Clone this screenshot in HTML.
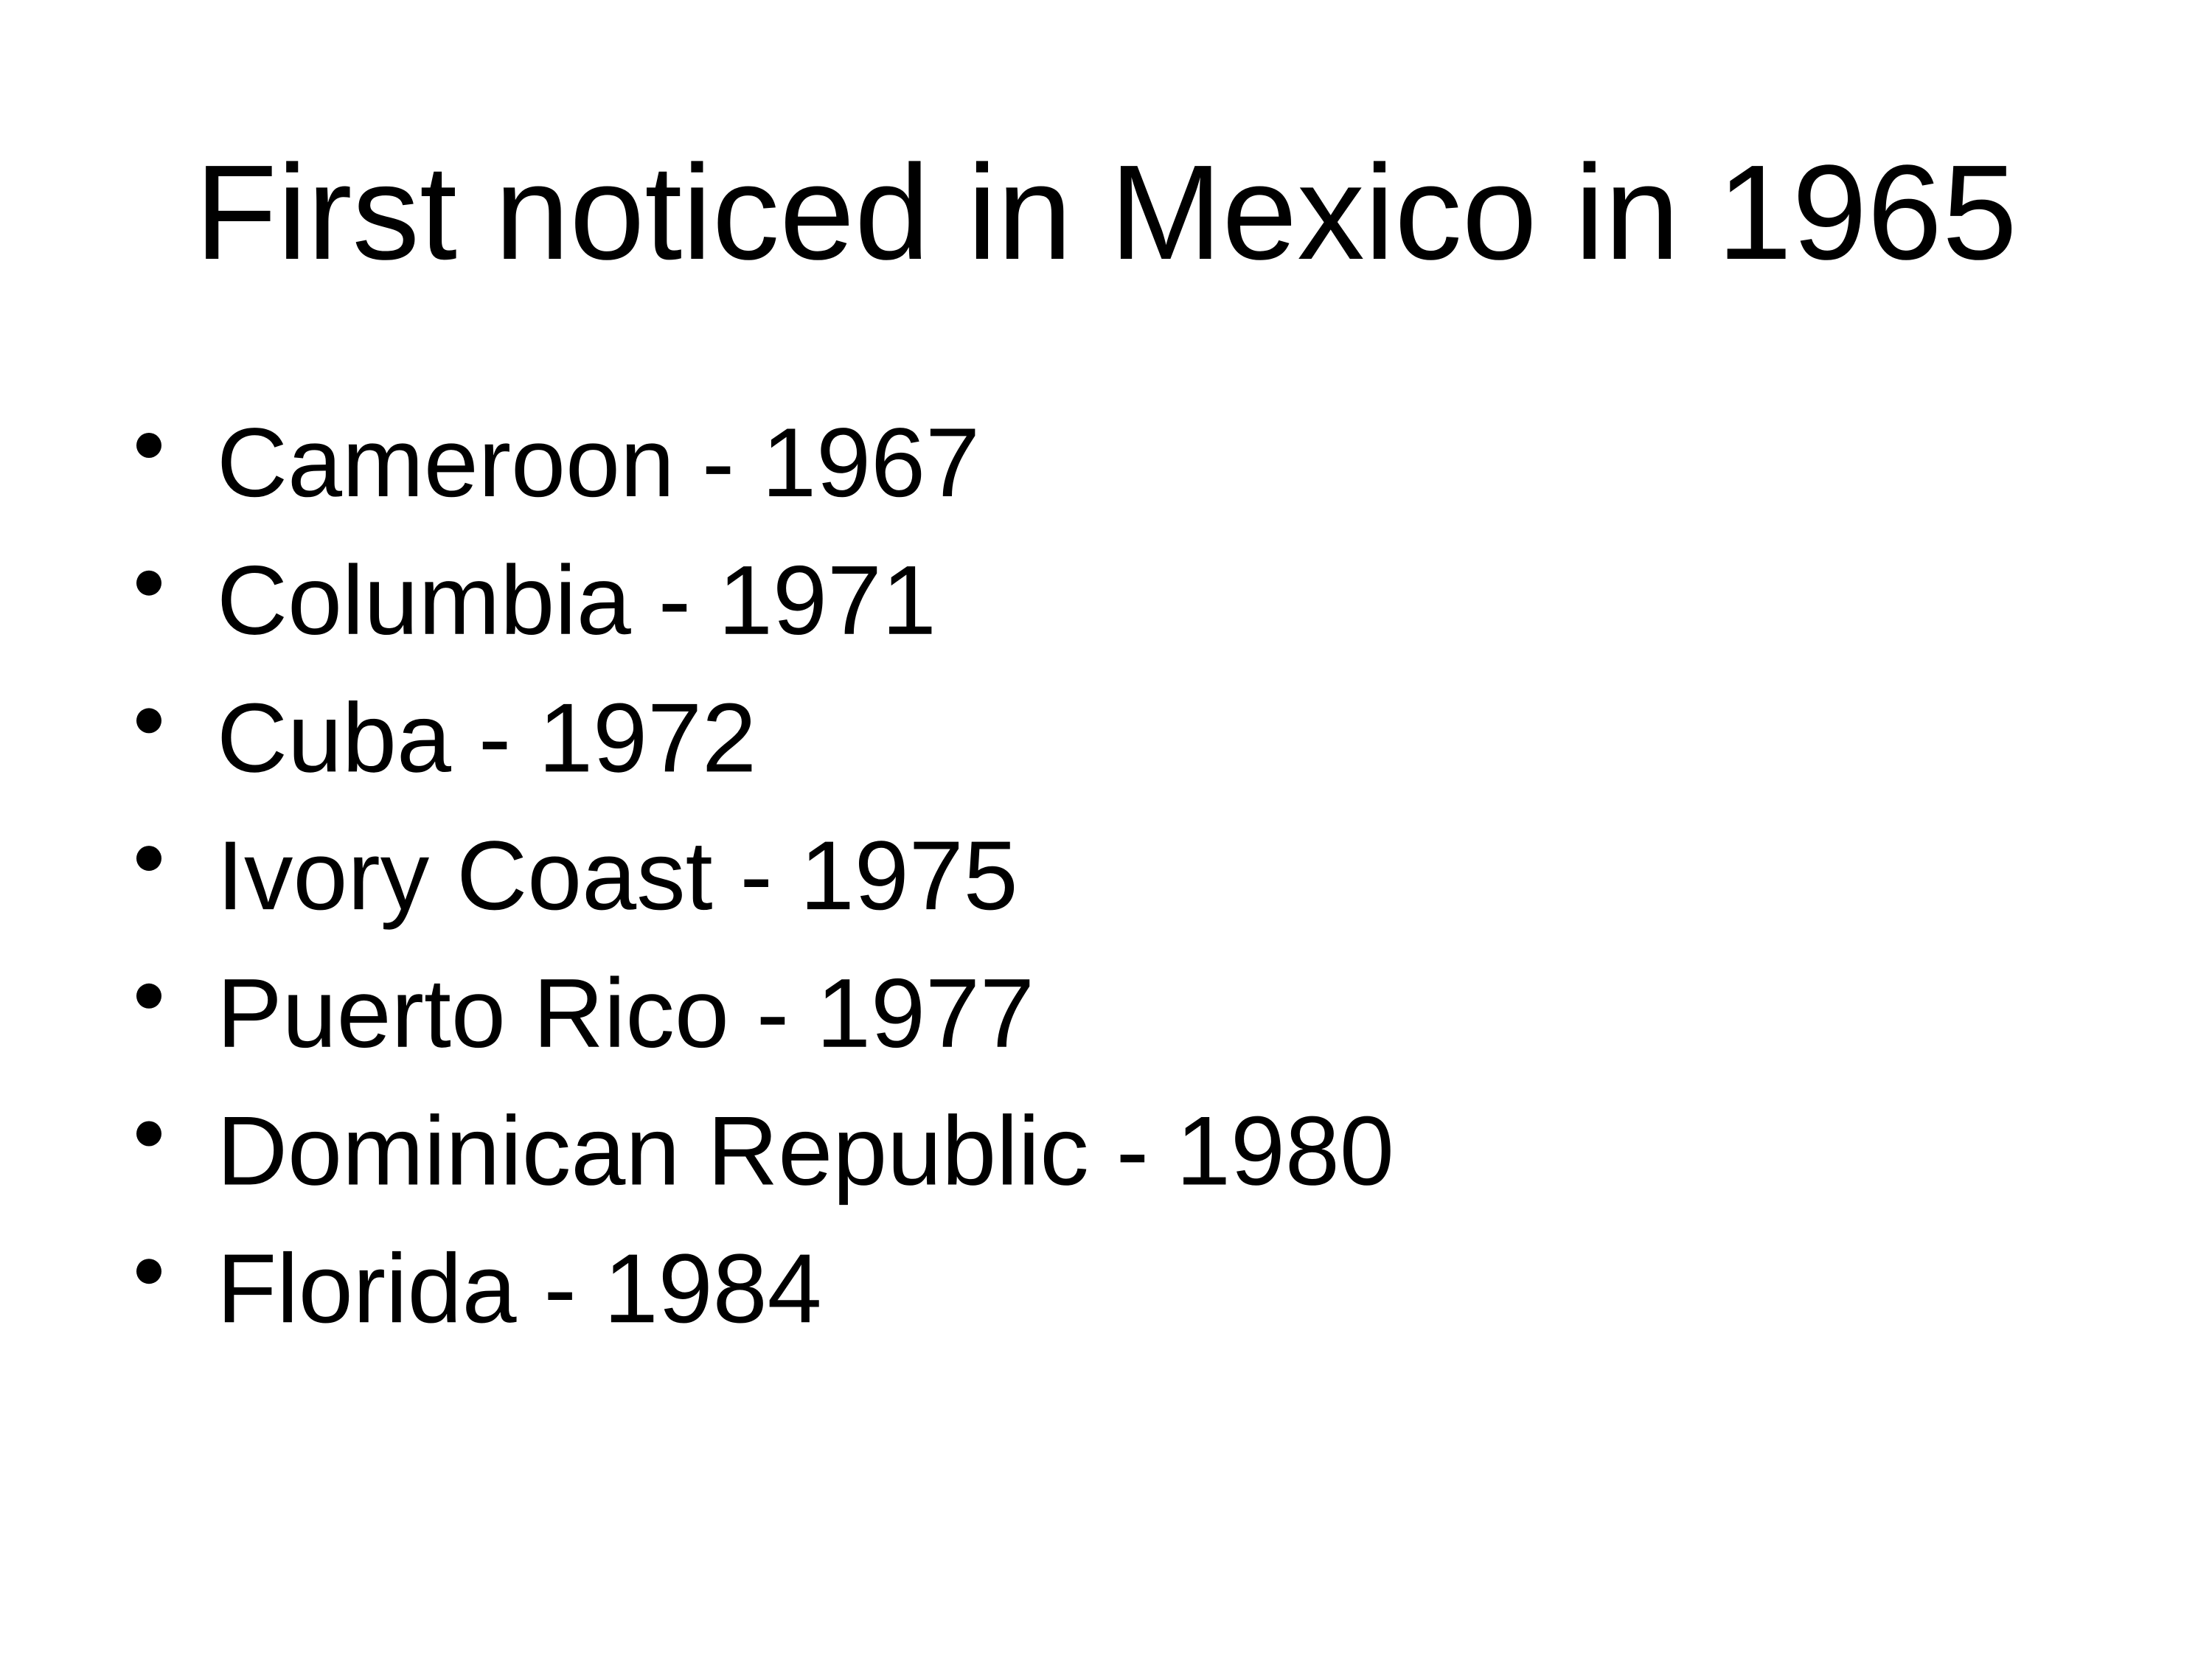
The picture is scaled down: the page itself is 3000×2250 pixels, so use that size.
<!DOCTYPE html>
<html><head><meta charset="utf-8"><style>
html,body{margin:0;padding:0;background:#fff;}
svg{display:block;font-family:"Liberation Sans",sans-serif;}
</style></head><body>
<svg width="3000" height="2250" viewBox="0 0 3000 2250">
<rect width="3000" height="2250" fill="#fff"/>
<text x="1500" y="351" font-size="183" text-anchor="middle" fill="#000">First noticed in Mexico in 1965</text>
<g id="list"></g>
</svg>
<script>
const items = ["Cameroon - 1967","Columbia - 1971","Cuba - 1972","Ivory Coast - 1975","Puerto Rico - 1977","Dominican Republic - 1980","Florida - 1984"];
const g = document.getElementById('list');
const NS = "http://www.w3.org/2000/svg";
items.forEach((t,i)=>{
  const y = 673 + i*186.7;
  const c = document.createElementNS(NS,'ellipse');
  c.setAttribute('cx',202); c.setAttribute('cy',y-69);
  c.setAttribute('rx',17); c.setAttribute('ry',17);
  c.setAttribute('fill','#000');
  
  
  g.appendChild(c);
  const tx = document.createElementNS(NS,'text');
  tx.setAttribute('x',294); tx.setAttribute('y',y);
  tx.setAttribute('font-size',133); tx.setAttribute('fill','#000');
  tx.textContent = t;
  
  
  g.appendChild(tx);
});
</script>
</body></html>
